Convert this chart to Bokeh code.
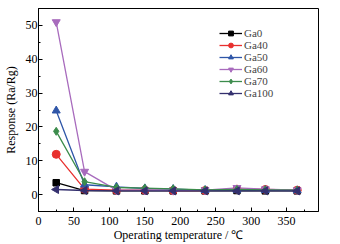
import numpy as np
from bokeh.plotting import figure
from bokeh.models import Legend, LegendItem, Range1d, FixedTicker
from bokeh.embed import file_html
from bokeh.resources import INLINE

temps = [25, 65, 110, 150, 190, 235, 280, 320, 365]
ga0 = [3.5, 1.2, 1.1, 1.1, 1.1, 1.1, 1.2, 1.1, 1.1]
ga40 = [11.9, 1.6, 1.3, 1.3, 1.2, 1.2, 1.6, 1.5, 1.3]
ga50 = [24.8, 2.9, 2.3, 1.8, 1.6, 1.3, 1.4, 1.3, 1.2]
ga60 = [51.0, 6.8, 1.3, 1.3, 1.2, 1.3, 2.0, 1.6, 1.3]
ga70 = [18.7, 3.8, 2.1, 1.9, 1.7, 1.4, 1.5, 1.4, 1.3]
ga100 = [1.5, 1.2, 1.1, 1.1, 1.1, 1.1, 1.1, 1.1, 1.1]

series_names = ["Ga0", "Ga40", "Ga50", "Ga60", "Ga70", "Ga100"]
series_values = [ga0, ga40, ga50, ga60, ga70, ga100]
colors = ["#000000", "#e8302e", "#2f56a8", "#a86bbd", "#3c8c4c", "#34306e"]
markers = ["square", "circle", "triangle", "inverted_triangle", "diamond", "triangle"]
angles = [0, 0, 0, 0, 0, np.pi / 2]

x_major = [0, 50, 100, 150, 200, 250, 300, 350]
x_minor = [25, 75, 125, 175, 225, 275, 325, 375]
y_major = [0, 10, 20, 30, 40, 50]
y_minor = [-5, 5, 15, 25, 35, 45, 55]

FONT = "Liberation Serif"

p = figure(width=340, height=244, output_backend="svg", toolbar_location=None,
           x_range=Range1d(0, 395), y_range=Range1d(-5, 55),
           min_border_left=36, min_border_right=22, min_border_top=8, min_border_bottom=31)
p.xgrid.visible = False
p.ygrid.visible = False
p.outline_line_color = "black"
p.outline_line_width = 1
p.background_fill_color = "white"
p.border_fill_color = "white"

for i, (name, vals, c, m, a) in enumerate(zip(series_names, series_values, colors, markers, angles)):
    r1 = p.line(temps, vals, line_color=c, line_width=1.3)
    r2 = p.scatter(temps, vals, marker=m, size=8 if m != "square" else 6.5, angle=a,
                   fill_color=c, line_color=c)
    lg = Legend(items=[LegendItem(label=name, renderers=[r1, r2])],
                location=(181, 172 - 12 * i), border_line_color=None,
                background_fill_alpha=0, padding=0, margin=0, spacing=0,
                glyph_width=23, glyph_height=12, label_height=12, label_standoff=2,
                label_text_font=FONT, label_text_font_size="11px")
    p.add_layout(lg, "center")

for ax in (p.xaxis[0], p.yaxis[0]):
    ax.major_tick_in = 4
    ax.major_tick_out = 0
    ax.minor_tick_in = 2
    ax.minor_tick_out = 0
    ax.axis_line_color = "black"
    ax.major_tick_line_color = "black"
    ax.minor_tick_line_color = "black"
    ax.major_label_text_font = FONT
    ax.major_label_text_font_size = "12px"
    ax.major_label_text_color = "black"
    ax.axis_label_text_font = FONT
    ax.axis_label_text_font_size = "12px"
    ax.axis_label_text_font_style = "normal"
    ax.axis_label_text_color = "black"

p.xaxis[0].ticker = FixedTicker(ticks=x_major, minor_ticks=x_minor)
p.yaxis[0].ticker = FixedTicker(ticks=y_major, minor_ticks=y_minor)
p.xaxis.axis_label = "Operating temperature / ℃"
p.yaxis.axis_label = "Response (Ra/Rg)"
p.xaxis.major_label_standoff = 5
p.xaxis.axis_label_standoff = 0
p.yaxis.major_label_standoff = 1
p.yaxis.axis_label_standoff = 5

open("out.html", "w").write(file_html(p, INLINE))
